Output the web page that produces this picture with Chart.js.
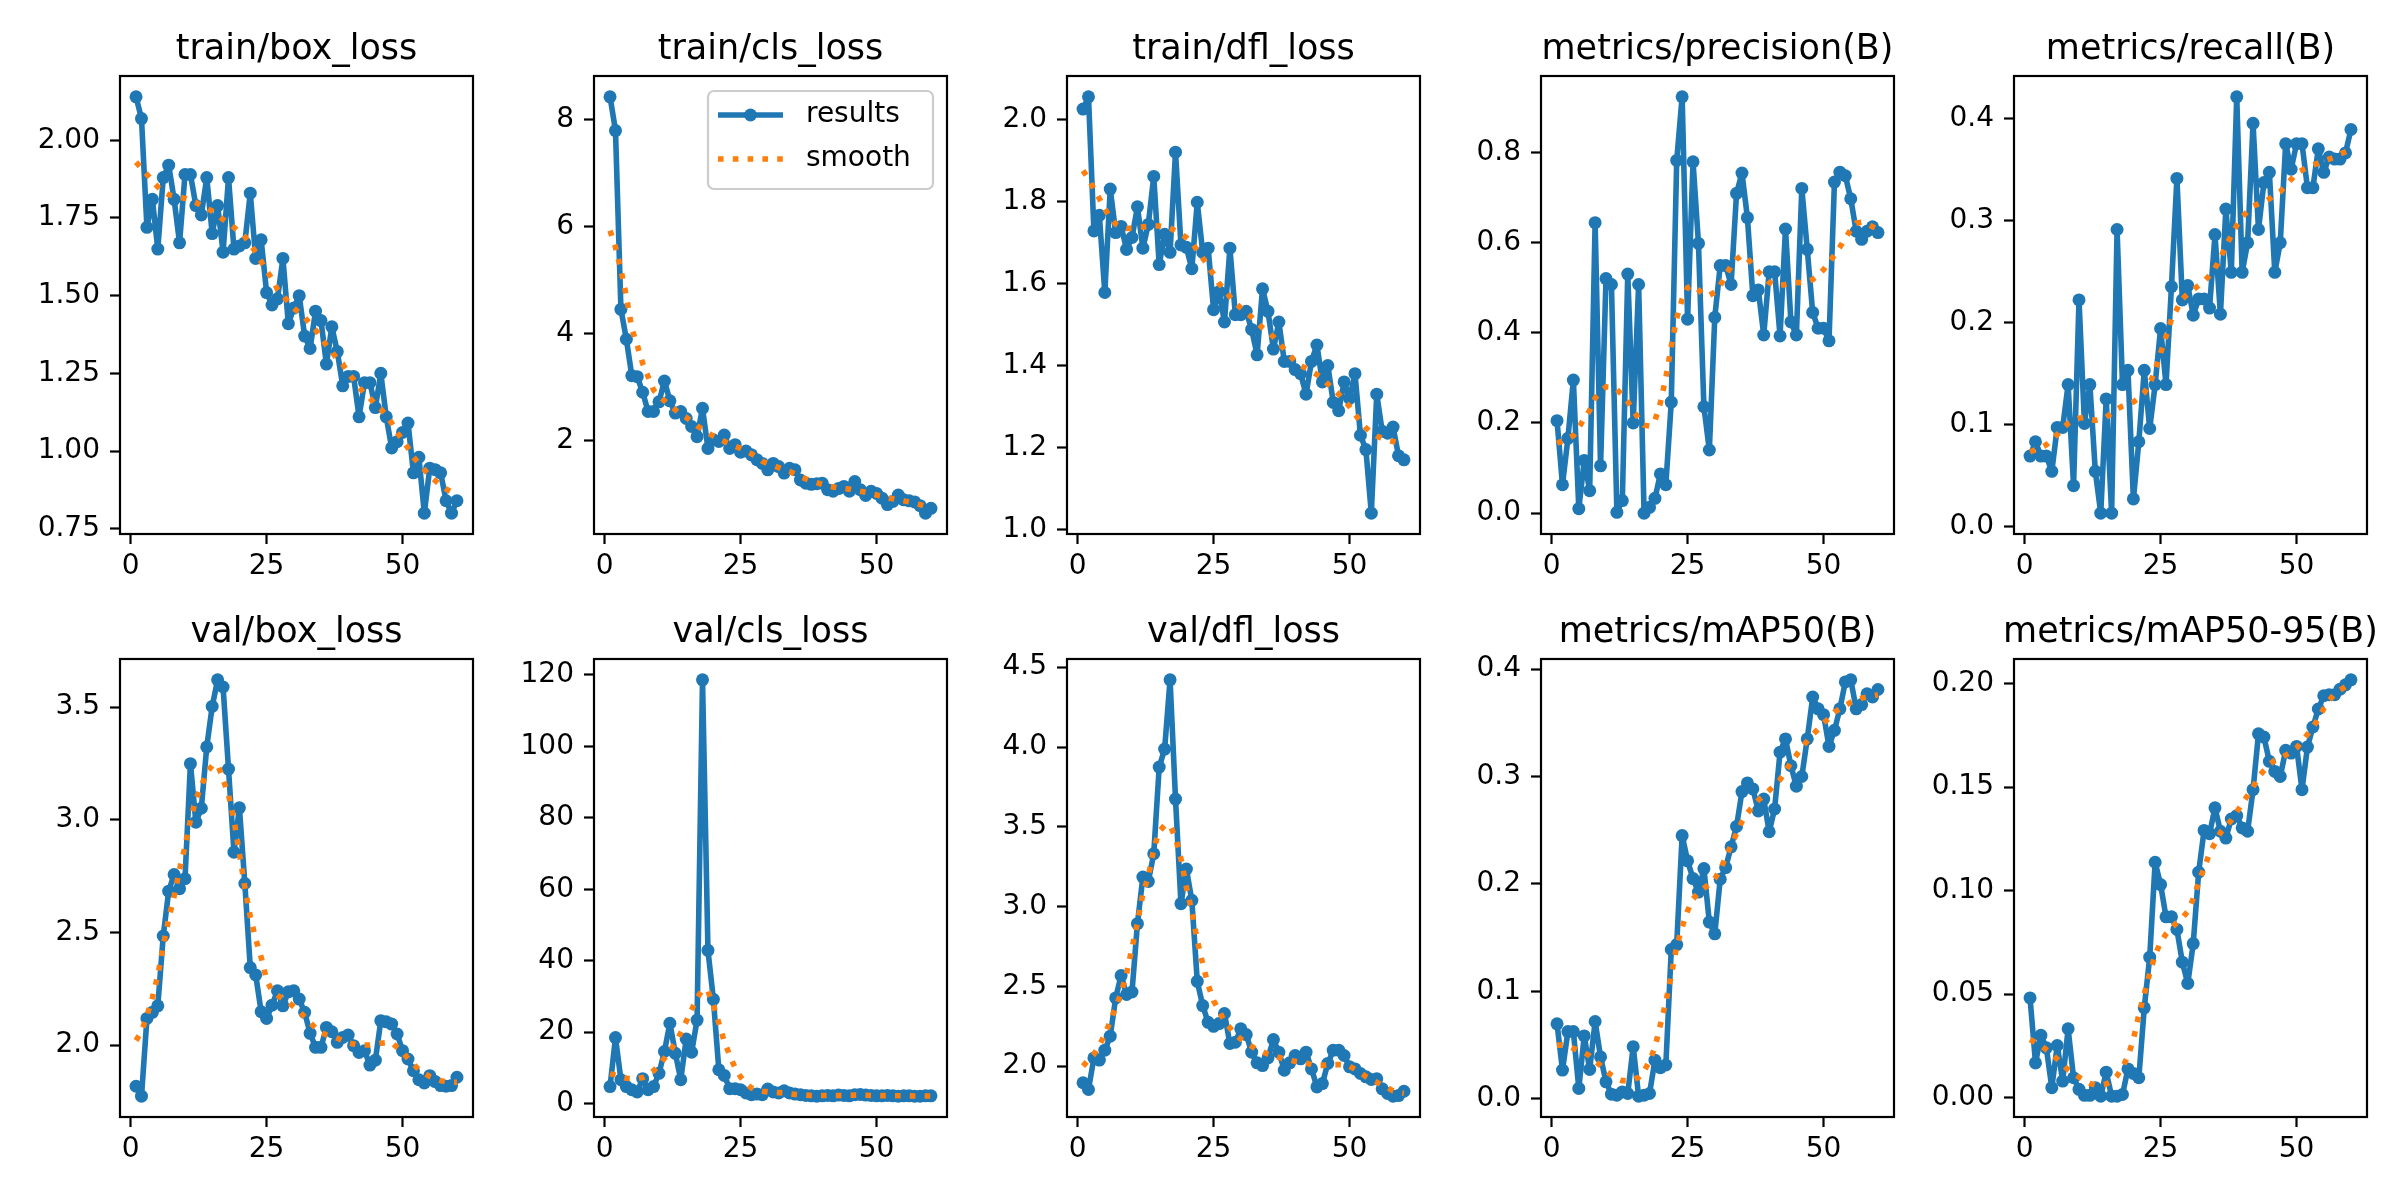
<!DOCTYPE html>
<html>
<head>
<meta charset="utf-8">
<title>results</title>
<script src="https://cdn.jsdelivr.net/npm/chart.js@4.4.1/dist/chart.umd.min.js"></script>
<style>
  html, body { margin: 0; padding: 0; background: #ffffff; }
  #figure { position: relative; width: 2400px; height: 1200px; background: #ffffff; overflow: hidden; }
  #figure canvas { position: absolute; }
</style>
</head>
<body>
<div id="figure"></div>
<script>
// epochs on the x axis
const epochs = [1,2,3,4,5,6,7,8,9,10,11,12,13,14,15,16,17,18,19,20,21,22,23,24,25,26,27,28,29,30,
  31,32,33,34,35,36,37,38,39,40,41,42,43,44,45,46,47,48,49,50,51,52,53,54,55,56,57,58,59,60];
const xTicks = [0, 25, 50];

// train/box_loss
const trainBox = [2.14,2.07,1.72,1.81,1.65,1.88,1.92,1.81,1.67,1.89, 1.89,1.79,1.76,1.88,1.70,1.79,1.64,1.88,1.65,1.66,
  1.67,1.83,1.62,1.68,1.51,1.47,1.49,1.62,1.41,1.46, 1.50,1.37,1.33,1.45,1.42,1.28,1.40,1.32,1.21,1.24,
  1.24,1.11,1.22,1.22,1.14,1.25,1.11,1.01,1.03,1.06, 1.09,0.93,0.98,0.80,0.945,0.94,0.93,0.84,0.80,0.84];
const trainBoxSmooth = [1.93,1.91,1.89,1.87,1.85,1.835,1.825,1.82,1.817,1.813, 1.807,1.80,1.79,1.782,1.772,1.76,1.745,1.733,1.72,1.705,
  1.69,1.665,1.64,1.61,1.58,1.555,1.52,1.50,1.48,1.46, 1.445,1.43,1.41,1.39,1.365,1.34,1.32,1.295,1.28,1.25,
  1.23,1.205,1.185,1.17,1.15,1.135,1.115,1.09,1.06,1.035, 1.01,0.98,0.96,0.94,0.92,0.905,0.89,0.878,0.868,0.86];
const trainBoxTicks = [0.75, 1.00, 1.25, 1.50, 1.75, 2.00];

// train/cls_loss
const trainCls = [8.43,7.80,4.46,3.90,3.22,3.20,2.91,2.55,2.55,2.73, 3.12,2.75,2.52,2.55,2.42,2.27,2.08,2.61,1.86,2.02,
  1.99,2.11,1.86,1.93,1.79,1.81,1.74,1.65,1.58,1.46, 1.58,1.52,1.40,1.49,1.46,1.27,1.21,1.19,1.20,1.21,
  1.09,1.06,1.11,1.15,1.06,1.24,1.09,0.98,1.06,1.02, 0.93,0.81,0.87,0.99,0.90,0.88,0.86,0.79,0.65,0.74];
const trainClsSmooth = [5.93,5.62,5.2,4.7,4.1,3.79,3.45,3.2,2.95,2.84, 2.75,2.66,2.58,2.5,2.44,2.36,2.28,2.22,2.15,2.09,
  2.04,1.99,1.95,1.90,1.86,1.81,1.76,1.70,1.62,1.58, 1.54,1.50,1.46,1.43,1.38,1.33,1.29,1.25,1.22,1.19,
  1.16,1.14,1.12,1.11,1.10,1.08,1.06,1.04,1.01,0.99, 0.97,0.94,0.92,0.90,0.88,0.86,0.83,0.81,0.78,0.76];
const trainClsTicks = [2, 4, 6, 8];

// train/dfl_loss
const trainDfl = [2.025,2.055,1.728,1.766,1.578,1.83,1.724,1.739,1.683,1.712, 1.787,1.686,1.744,1.861,1.646,1.72,1.676,1.92,1.694,1.688,
  1.636,1.798,1.676,1.686,1.536,1.58,1.506,1.686,1.524,1.524, 1.532,1.488,1.426,1.587,1.532,1.44,1.506,1.41,1.41,1.39,
  1.38,1.33,1.41,1.45,1.36,1.40,1.31,1.29,1.36,1.32, 1.38,1.23,1.195,1.04,1.33,1.24,1.235,1.25,1.18,1.17];
const trainDflSmooth = [1.875,1.855,1.83,1.807,1.782,1.76,1.745,1.738,1.734,1.735, 1.737,1.738,1.739,1.74,1.74,1.738,1.735,1.728,1.72,1.712,
  1.70,1.68,1.662,1.642,1.622,1.60,1.585,1.568,1.553,1.54, 1.528,1.518,1.505,1.492,1.482,1.47,1.455,1.44,1.425,1.41,
  1.40,1.393,1.386,1.378,1.368,1.355,1.342,1.33,1.315,1.30, 1.282,1.262,1.248,1.236,1.228,1.222,1.218,1.215,1.212,1.21];
const trainDflTicks = [1.0, 1.2, 1.4, 1.6, 1.8, 2.0];

// metrics/precision(B)
const precision = [0.205,0.063,0.166,0.295,0.010,0.117,0.050,0.644,0.105,0.52, 0.507,0.002,0.028,0.53,0.20,0.507,0.0,0.013,0.033,0.087,
  0.063,0.246,0.782,0.923,0.43,0.779,0.598,0.236,0.14,0.434, 0.549,0.549,0.507,0.709,0.754,0.655,0.482,0.495,0.395,0.535,
  0.535,0.393,0.63,0.424,0.395,0.72,0.585,0.445,0.41,0.41, 0.382,0.734,0.756,0.748,0.697,0.625,0.607,0.625,0.635,0.622];
const precisionSmooth = [0.155,0.16,0.165,0.172,0.19,0.21,0.228,0.255,0.27,0.28, 0.279,0.274,0.262,0.247,0.228,0.21,0.195,0.193,0.205,0.245,
  0.30,0.37,0.432,0.475,0.50,0.505,0.495,0.483,0.483,0.49, 0.505,0.527,0.548,0.563,0.572,0.565,0.55,0.535,0.525,0.512,
  0.505,0.505,0.507,0.51,0.511,0.511,0.513,0.518,0.527,0.54, 0.556,0.572,0.59,0.61,0.628,0.643,0.645,0.642,0.635,0.63];
const precisionTicks = [0.0, 0.2, 0.4, 0.6, 0.8];

// metrics/recall(B)
const recall = [0.069,0.083,0.069,0.069,0.054,0.097,0.097,0.139,0.040,0.222, 0.101,0.139,0.054,0.013,0.125,0.013,0.291,0.139,0.153,0.027,
  0.083,0.153,0.096,0.139,0.194,0.139,0.235,0.341,0.222,0.236, 0.207,0.223,0.223,0.214,0.286,0.208,0.311,0.249,0.421,0.249,
  0.278,0.395,0.291,0.337,0.347,0.249,0.278,0.375,0.35,0.375, 0.375,0.332,0.332,0.37,0.347,0.362,0.36,0.36,0.366,0.389];
const recallSmooth = [0.073,0.075,0.077,0.080,0.085,0.09,0.096,0.101,0.104,0.106, 0.107,0.105,0.104,0.105,0.107,0.111,0.115,0.118,0.12,0.122,
  0.126,0.131,0.14,0.153,0.17,0.186,0.203,0.213,0.223,0.228, 0.232,0.236,0.240,0.246,0.253,0.263,0.275,0.285,0.295,0.303,
  0.309,0.314,0.316,0.318,0.321,0.325,0.328,0.334,0.34,0.346, 0.349,0.352,0.354,0.356,0.358,0.36,0.362,0.365,0.367,0.369];
const recallTicks = [0.0, 0.1, 0.2, 0.3, 0.4];

// val/box_loss
const valBox = [1.817,1.773,2.118,2.145,2.174,2.484,2.683,2.757,2.694,2.738, 3.249,2.989,3.051,3.323,3.503,3.621,3.589,3.225,2.856,3.053,
  2.717,2.344,2.311,2.148,2.118,2.177,2.241,2.174,2.236,2.241, 2.204,2.145,2.052,1.99,1.99,2.078,2.059,2.012,2.034,2.044,
  1.997,1.967,1.975,1.911,1.933,2.108,2.103,2.093,2.049,1.975, 1.938,1.886,1.846,1.832,1.864,1.838,1.82,1.817,1.82,1.857];
const valBoxSmooth = [2.02,2.06,2.13,2.21,2.31,2.44,2.56,2.66,2.78,2.88, 3.0,3.09,3.15,3.21,3.24,3.245,3.18,3.11,3.0,2.85,
  2.70,2.57,2.47,2.39,2.29,2.24,2.22,2.205,2.19,2.17, 2.15,2.125,2.10,2.075,2.055,2.045,2.04,2.03,2.02,2.01,
  2.005,2.0,2.0,2.0,2.004,2.008,2.01,2.01,1.99,1.97, 1.94,1.915,1.89,1.875,1.86,1.85,1.842,1.837,1.835,1.835];
const valBoxTicks = [2.0, 2.5, 3.0, 3.5];

// val/cls_loss
const valCls = [4.8,18.5,6.7,4.8,3.9,3.3,7.0,3.9,4.8,8.5, 14.6,22.5,14.1,6.7,18.1,14.4,23.4,118.6,42.9,29.2,
  9.5,7.9,4.2,4.2,3.9,3.0,2.5,2.7,2.5,4.1, 3.3,3.0,3.6,3.0,2.7,2.5,2.3,2.2,2.1,2.2,
  2.3,2.2,2.4,2.3,2.2,2.5,2.6,2.4,2.3,2.2, 2.2,2.3,2.2,2.1,2.2,2.2,2.1,2.1,2.2,2.2];
const valClsSmooth = [8.4,8.0,7.5,7.1,7.0,7.0,7.3,8.0,9.2,10.8, 12.7,14.8,17.0,19.8,23.0,26.3,29.5,32.0,31.5,27.5,
  22.5,17.4,13.5,10.0,7.5,5.6,4.4,3.8,3.5,3.3, 3.2,3.1,3.0,2.8,2.6,2.5,2.4,2.3,2.3,2.3,
  2.3,2.3,2.3,2.3,2.35,2.4,2.4,2.35,2.3,2.3, 2.25,2.25,2.2,2.2,2.2,2.2,2.15,2.15,2.15,2.15];
const valClsTicks = [0, 20, 40, 60, 80, 100, 120];

// val/dfl_loss
const valDfl = [1.896,1.854,2.052,2.038,2.10,2.188,2.428,2.568,2.449,2.465, 2.893,3.185,3.158,3.331,3.874,3.987,4.421,3.674,3.018,3.235,
  3.039,2.532,2.38,2.275,2.25,2.267,2.33,2.142,2.15,2.234, 2.198,2.088,2.021,2.004,2.052,2.167,2.088,1.975,2.021,2.067,
  2.046,2.088,1.983,1.87,1.891,2.017,2.10,2.10,2.067,1.996, 1.983,1.954,1.933,1.917,1.921,1.858,1.829,1.812,1.816,1.843];
const valDflSmooth = [2.00,2.04,2.075,2.13,2.20,2.28,2.37,2.46,2.58,2.74, 2.90,3.08,3.19,3.36,3.47,3.51,3.51,3.43,3.30,3.12,
  2.97,2.79,2.64,2.51,2.41,2.35,2.28,2.24,2.20,2.17, 2.145,2.125,2.10,2.09,2.075,2.065,2.055,2.045,2.04,2.03,
  2.025,2.02,2.01,2.005,2.005,2.01,2.01,2.01,2.01,2.0, 1.98,1.96,1.935,1.915,1.90,1.88,1.865,1.845,1.835,1.83];
const valDflTicks = [2.0, 2.5, 3.0, 3.5, 4.0, 4.5];

// metrics/mAP50(B)
const map50 = [0.0698,0.0268,0.0626,0.0626,0.0097,0.0586,0.0274,0.072,0.039,0.0159, 0.0044,0.0034,0.0065,0.005,0.0486,0.0025,0.0034,0.005,0.036,0.029,
  0.0315,0.139,0.1436,0.245,0.2215,0.205,0.1925,0.2143,0.1645,0.1536, 0.2044,0.2153,0.2346,0.2536,0.286,0.294,0.2885,0.268,0.279,0.2486,
  0.2698,0.3227,0.335,0.31,0.291,0.30,0.335,0.374,0.363,0.3576, 0.328,0.343,0.363,0.388,0.39,0.363,0.367,0.377,0.374,0.381];
const map50Smooth = [0.05,0.05,0.049,0.047,0.045,0.043,0.04,0.035,0.031,0.026, 0.022,0.019,0.017,0.017,0.018,0.02,0.026,0.035,0.048,0.069,
  0.09,0.115,0.142,0.16,0.175,0.186,0.192,0.196,0.2,0.205, 0.213,0.225,0.236,0.247,0.258,0.266,0.272,0.278,0.282,0.287,
  0.292,0.297,0.305,0.313,0.32,0.327,0.333,0.339,0.344,0.35, 0.354,0.36,0.363,0.366,0.369,0.371,0.373,0.374,0.375,0.376];
const map50Ticks = [0.0, 0.1, 0.2, 0.3, 0.4];

// metrics/mAP50-95(B)
const map5095 = [0.0481,0.0167,0.03,0.024,0.0047,0.0251,0.0079,0.0332,0.0095,0.0039, 0.001,0.001,0.0047,0.0006,0.0122,0.0006,0.0006,0.0014,0.0138,0.0116,
  0.0095,0.0433,0.0678,0.1137,0.1029,0.0873,0.0873,0.0812,0.0654,0.0551, 0.0744,0.1089,0.1291,0.1275,0.14,0.1287,0.1254,0.1346,0.1362,0.1303,
  0.1287,0.1488,0.1758,0.1742,0.1625,0.1576,0.1552,0.1678,0.1665,0.1697, 0.1488,0.1694,0.1791,0.1878,0.1942,0.1947,0.1947,0.1974,0.1995,0.2019];
const map5095Smooth = [0.028,0.0265,0.025,0.023,0.021,0.0185,0.016,0.0133,0.0115,0.0098, 0.0082,0.0068,0.006,0.006,0.0065,0.0078,0.0105,0.0145,0.02,0.028,
  0.04,0.05,0.06,0.069,0.075,0.079,0.082,0.0845,0.0868,0.09, 0.096,0.104,0.111,0.118,0.123,0.128,0.131,0.134,0.138,0.142,
  0.146,0.15,0.155,0.158,0.161,0.163,0.164,0.1655,0.167,0.169, 0.172,0.1755,0.179,0.183,0.188,0.192,0.195,0.197,0.1985,0.199];
const map5095Ticks = [0.00, 0.05, 0.10, 0.15, 0.20];

const panels = [
  { title: 'train/box_loss', results: trainBox, smooth: trainBoxSmooth, ticks: trainBoxTicks, digits: 2 },
  { title: 'train/cls_loss', results: trainCls, smooth: trainClsSmooth, ticks: trainClsTicks, digits: 0, legend: true },
  { title: 'train/dfl_loss', results: trainDfl, smooth: trainDflSmooth, ticks: trainDflTicks, digits: 1 },
  { title: 'metrics/precision(B)', results: precision, smooth: precisionSmooth, ticks: precisionTicks, digits: 1 },
  { title: 'metrics/recall(B)', results: recall, smooth: recallSmooth, ticks: recallTicks, digits: 1 },
  { title: 'val/box_loss', results: valBox, smooth: valBoxSmooth, ticks: valBoxTicks, digits: 1 },
  { title: 'val/cls_loss', results: valCls, smooth: valClsSmooth, ticks: valClsTicks, digits: 0 },
  { title: 'val/dfl_loss', results: valDfl, smooth: valDflSmooth, ticks: valDflTicks, digits: 1 },
  { title: 'metrics/mAP50(B)', results: map50, smooth: map50Smooth, ticks: map50Ticks, digits: 1 },
  { title: 'metrics/mAP50-95(B)', results: map5095, smooth: map5095Smooth, ticks: map5095Ticks, digits: 2 }
];

const BLUE = '#1f77b4';
const ORANGE = '#ff7f0e';
const FONT = 'DejaVu Sans';

// axes box geometry (px) and the margins around it inside each canvas
const AX_W = 353, AX_H = 458;
const M_SIDE = 110, M_TOP = 60, M_BOTTOM = 70;

Chart.defaults.font.family = FONT;
Chart.defaults.color = '#000';

// black frame on all four sides + title centred over the axes, like matplotlib
const framePlugin = {
  id: 'frame',
  afterDatasetsDraw(chart, args, opts) {
    const { ctx, chartArea: a } = chart;
    ctx.save();
    ctx.strokeStyle = '#000';
    ctx.lineWidth = 2.2;
    ctx.strokeRect(a.left, a.top, a.right - a.left, a.bottom - a.top);
    if (opts.title) {
      ctx.fillStyle = '#000';
      ctx.font = '35px "' + FONT + '"';
      ctx.textAlign = 'center';
      ctx.textBaseline = 'alphabetic';
      ctx.fillText(opts.title, (a.left + a.right) / 2, a.top - 17);
    }
    ctx.restore();
  }
};

// legend box drawn inside the axes, upper right
const innerLegend = {
  id: 'innerLegend',
  afterDraw(chart, args, opts) {
    if (!opts.show) return;
    const { ctx, chartArea: a } = chart;
    const w = 225, h = 98;
    const x = a.right - 14 - w, y = a.top + 15;
    ctx.save();
    ctx.beginPath();
    ctx.roundRect(x, y, w, h, 6);
    ctx.fillStyle = 'rgba(255,255,255,0.8)';
    ctx.fill();
    ctx.strokeStyle = '#cccccc';
    ctx.lineWidth = 2.2;
    ctx.stroke();

    const y1 = y + 24, y2 = y + 68;
    ctx.strokeStyle = BLUE;
    ctx.lineWidth = 5.6;
    ctx.beginPath();
    ctx.moveTo(x + 10, y1);
    ctx.lineTo(x + 75, y1);
    ctx.stroke();
    ctx.fillStyle = BLUE;
    ctx.beginPath();
    ctx.arc(x + 42.5, y1, 6.5, 0, Math.PI * 2);
    ctx.fill();

    ctx.strokeStyle = ORANGE;
    ctx.setLineDash([5.6, 9.2]);
    ctx.lineCap = 'butt';
    ctx.beginPath();
    ctx.moveTo(x + 10, y2);
    ctx.lineTo(x + 75, y2);
    ctx.stroke();
    ctx.setLineDash([]);

    ctx.fillStyle = '#000';
    ctx.font = '28px "' + FONT + '"';
    ctx.textBaseline = 'middle';
    ctx.textAlign = 'left';
    ctx.fillText('results', x + 98, y1);
    ctx.fillText('smooth', x + 98, y2);
    ctx.restore();
  }
};

function paddedRange(a, b) {
  const lo = Math.min(...a, ...b), hi = Math.max(...a, ...b);
  const pad = (hi - lo) * 0.05;
  return [lo - pad, hi + pad];
}

function toPoints(values) {
  return epochs.map((e, i) => ({ x: e, y: values[i] }));
}

const fig = document.getElementById('figure');

panels.forEach((p, idx) => {
  const col = idx % 5, row = Math.floor(idx / 5);
  const axLeft = 120 + col * 473.5;
  const axTop = row === 0 ? 76 : 659;

  const canvas = document.createElement('canvas');
  canvas.width = AX_W + 2 * M_SIDE;
  canvas.height = AX_H + M_TOP + M_BOTTOM;
  canvas.style.left = (axLeft - M_SIDE) + 'px';
  canvas.style.top = (axTop - M_TOP) + 'px';
  fig.appendChild(canvas);

  const [yMin, yMax] = paddedRange(p.results, p.smooth);
  const span = epochs[epochs.length - 1] - epochs[0];
  const xMin = epochs[0] - 0.05 * span;
  const xMax = epochs[epochs.length - 1] + 0.05 * span;

  new Chart(canvas.getContext('2d'), {
    type: 'line',
    data: {
      datasets: [
        {
          label: 'results',
          data: toPoints(p.results),
          borderColor: BLUE,
          backgroundColor: BLUE,
          borderWidth: 5.6,
          borderJoinStyle: 'round',
          pointRadius: 6.5,
          pointBorderWidth: 0,
          pointBackgroundColor: BLUE,
          tension: 0,
          order: 1
        },
        {
          label: 'smooth',
          data: toPoints(p.smooth),
          borderColor: ORANGE,
          borderWidth: 5.6,
          borderDash: [5.6, 9.2],
          borderCapStyle: 'butt',
          pointRadius: 0,
          tension: 0,
          order: 0
        }
      ]
    },
    options: {
      responsive: false,
      animation: false,
      devicePixelRatio: 1,
      events: [],
      layout: { autoPadding: false, padding: { left: 0, right: M_SIDE, top: M_TOP, bottom: 0 } },
      plugins: {
        legend: { display: false },
        tooltip: { enabled: false },
        title: { display: false },
        frame: { title: p.title },
        innerLegend: { show: !!p.legend }
      },
      scales: {
        x: {
          type: 'linear',
          min: xMin,
          max: xMax,
          afterBuildTicks: (scale) => { scale.ticks = xTicks.map(v => ({ value: v })); },
          afterFit: (scale) => { scale.height = M_BOTTOM; },
          ticks: {
            font: { size: 28, family: FONT },
            color: '#000',
            padding: 6,
            maxRotation: 0,
            callback: (v) => String(v)
          },
          grid: { drawOnChartArea: false, drawTicks: true, tickLength: 10, tickColor: '#000', tickWidth: 2.2 },
          border: { display: false }
        },
        y: {
          type: 'linear',
          min: yMin,
          max: yMax,
          afterBuildTicks: (scale) => { scale.ticks = p.ticks.map(v => ({ value: v })); },
          afterFit: (scale) => { scale.width = M_SIDE; },
          ticks: {
            font: { size: 28, family: FONT },
            color: '#000',
            padding: 10,
            callback: (v) => Number(v).toFixed(p.digits)
          },
          grid: { drawOnChartArea: false, drawTicks: true, tickLength: 10, tickColor: '#000', tickWidth: 2.2 },
          border: { display: false }
        }
      }
    },
    plugins: [framePlugin, innerLegend]
  });
});
</script>
</body>
</html>
